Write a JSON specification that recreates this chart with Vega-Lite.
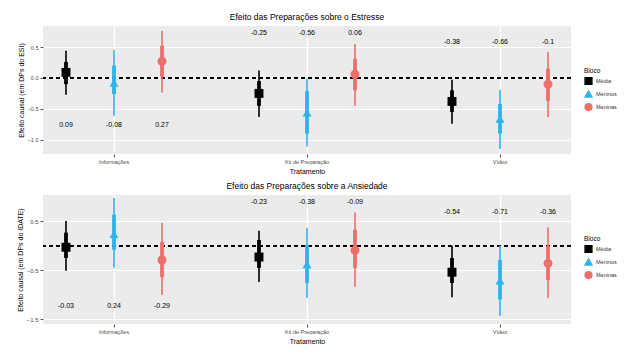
{
  "$schema": "https://vega.github.io/schema/vega-lite/v6.json",
  "padding": {"left": 16, "top": 12, "right": 5, "bottom": 5},
  "datasets": {
    "estresse": [
      {"Tratamento": "Informações", "Bloco": "Média", "est": 0.09, "lo1": -0.10, "hi1": 0.26, "lo2": -0.27, "hi2": 0.44, "label": "0.09", "ly": -0.76},
      {"Tratamento": "Informações", "Bloco": "Meninos", "est": -0.08, "lo1": -0.26, "hi1": 0.20, "lo2": -0.61, "hi2": 0.45, "label": "-0.08", "ly": -0.76},
      {"Tratamento": "Informações", "Bloco": "Meninas", "est": 0.27, "lo1": 0.02, "hi1": 0.52, "lo2": -0.24, "hi2": 0.76, "label": "0.27", "ly": -0.76},
      {"Tratamento": "Kit de Preparação", "Bloco": "Média", "est": -0.25, "lo1": -0.45, "hi1": -0.05, "lo2": -0.63, "hi2": 0.12, "label": "-0.25", "ly": 0.73},
      {"Tratamento": "Kit de Preparação", "Bloco": "Meninos", "est": -0.56, "lo1": -0.90, "hi1": -0.21, "lo2": -1.11, "hi2": -0.01, "label": "-0.56", "ly": 0.73},
      {"Tratamento": "Kit de Preparação", "Bloco": "Meninas", "est": 0.06, "lo1": -0.20, "hi1": 0.31, "lo2": -0.45, "hi2": 0.55, "label": "0.06", "ly": 0.73},
      {"Tratamento": "Vídeo", "Bloco": "Média", "est": -0.38, "lo1": -0.55, "hi1": -0.20, "lo2": -0.74, "hi2": -0.03, "label": "-0.38", "ly": 0.58},
      {"Tratamento": "Vídeo", "Bloco": "Meninos", "est": -0.66, "lo1": -0.90, "hi1": -0.42, "lo2": -1.15, "hi2": -0.19, "label": "-0.66", "ly": 0.58},
      {"Tratamento": "Vídeo", "Bloco": "Meninas", "est": -0.10, "lo1": -0.37, "hi1": 0.15, "lo2": -0.63, "hi2": 0.42, "label": "-0.1", "ly": 0.58}
    ],
    "ansiedade": [
      {"Tratamento": "Informações", "Bloco": "Média", "est": -0.03, "lo1": -0.25, "hi1": 0.27, "lo2": -0.51, "hi2": 0.51, "label": "-0.03", "ly": -1.23},
      {"Tratamento": "Informações", "Bloco": "Meninos", "est": 0.24, "lo1": -0.08, "hi1": 0.64, "lo2": -0.45, "hi2": 0.98, "label": "0.24", "ly": -1.23},
      {"Tratamento": "Informações", "Bloco": "Meninas", "est": -0.29, "lo1": -0.64, "hi1": 0.08, "lo2": -1.00, "hi2": 0.47, "label": "-0.29", "ly": -1.23},
      {"Tratamento": "Kit de Preparação", "Bloco": "Média", "est": -0.23, "lo1": -0.45, "hi1": 0.12, "lo2": -0.74, "hi2": 0.31, "label": "-0.23", "ly": 0.9},
      {"Tratamento": "Kit de Preparação", "Bloco": "Meninos", "est": -0.38, "lo1": -0.76, "hi1": 0.02, "lo2": -1.07, "hi2": 0.37, "label": "-0.38", "ly": 0.9},
      {"Tratamento": "Kit de Preparação", "Bloco": "Meninas", "est": -0.09, "lo1": -0.45, "hi1": 0.33, "lo2": -0.84, "hi2": 0.68, "label": "-0.09", "ly": 0.9},
      {"Tratamento": "Vídeo", "Bloco": "Média", "est": -0.54, "lo1": -0.76, "hi1": -0.25, "lo2": -1.05, "hi2": 0.0, "label": "-0.54", "ly": 0.7},
      {"Tratamento": "Vídeo", "Bloco": "Meninos", "est": -0.71, "lo1": -1.10, "hi1": -0.29, "lo2": -1.44, "hi2": 0.0, "label": "-0.71", "ly": 0.7},
      {"Tratamento": "Vídeo", "Bloco": "Meninas", "est": -0.36, "lo1": -0.70, "hi1": 0.0, "lo2": -1.07, "hi2": 0.38, "label": "-0.36", "ly": 0.7}
    ]
  },
  "vconcat": [
    {
      "width": 528,
      "height": 128,
      "title": {"text": "Efeito das Preparações sobre o Estresse", "fontSize": 8.5, "fontWeight": "normal", "color": "black", "offset": 5},
      "data": {"name": "estresse"},
      "encoding": {
        "x": {"field": "Tratamento", "type": "nominal", "sort": ["Informações", "Kit de Preparação", "Vídeo"],
              "scale": {"range": [-25.5, 553.5], "paddingInner": 0, "paddingOuter": 0},
              "axis": {"title": "Tratamento", "labelAngle": 0, "grid": true, "gridColor": "#FFFFFF", "gridWidth": 1.2, "bandPosition": 0.5, "ticks": true}},
        "xOffset": {"field": "Bloco", "type": "nominal", "sort": ["Média", "Meninos", "Meninas"], "scale": {"paddingOuter": 0.51}},
        "color": {"field": "Bloco", "type": "nominal", "scale": {"domain": ["Média", "Meninos", "Meninas"], "range": ["black", "#2DB4EC", "#EE6E6A"]},
                  "legend": {"orient": "none", "legendX": 541, "legendY": 42, "title": "Bloco", "titleFontSize": 6.5, "titleFontWeight": "normal", "labelFontSize": 5.5, "symbolSize": 45, "rowPadding": 0, "titlePadding": 2, "labelOffset": 3, "labelColor": "#333"}}
      },
      "layer": [
        {
          "mark": {"type": "rule", "color": "black", "strokeDash": [4, 3], "strokeWidth": 1},
          "encoding": {
            "xOffset": null,
            "x": null,
            "color": null,
            "y": {"datum": 0, "type": "quantitative",
                  "scale": {"domain": [-1.23, 0.84], "nice": false, "zero": false},
                  "axis": {"title": "Efeito causal (em DPs do ESI)", "grid": true, "gridColor": "#FFFFFF", "gridWidth": 1, "labelOverlap": false,
                           "values": [-1.0, -0.75, -0.5, -0.25, 0, 0.25, 0.5, 0.75],
                           "labelExpr": "abs(datum.value*2 - round(datum.value*2)) < 0.01 ? format(datum.value, '.1f') : ''",
                           "gridOpacity": {"condition": {"test": "abs(datum.value*2 - round(datum.value*2)) > 0.01", "value": 0.5}, "value": 1},
                           "tickOpacity": {"condition": {"test": "abs(datum.value*2 - round(datum.value*2)) > 0.01", "value": 0}, "value": 1}}}
          }
        },
        {
          "mark": {"type": "rule", "strokeWidth": 1.6},
          "encoding": {
            "y": {"field": "lo2", "type": "quantitative"},
            "y2": {"field": "hi2"}
          }
        },
        {
          "mark": {"type": "rule", "strokeWidth": 3.8},
          "encoding": {
            "y": {"field": "lo1", "type": "quantitative"},
            "y2": {"field": "hi1"}
          }
        },
        {
          "mark": {"type": "point", "filled": true, "opacity": 1, "size": 80},
          "encoding": {
            "y": {"field": "est", "type": "quantitative"},
            "shape": {"field": "Bloco", "type": "nominal", "scale": {"domain": ["Média", "Meninos", "Meninas"], "range": ["square", "triangle-up", "circle"]},
                      "legend": {"orient": "none", "legendX": 541, "legendY": 42, "title": "Bloco", "titleFontSize": 6.5, "titleFontWeight": "normal", "labelFontSize": 5.5, "symbolSize": 45, "rowPadding": 0, "titlePadding": 2, "labelOffset": 3, "labelColor": "#333"}}
          }
        },
        {
          "mark": {"type": "text", "fontSize": 7},
          "encoding": {
            "color": null,
            "y": {"field": "ly", "type": "quantitative"},
            "text": {"field": "label", "type": "nominal"}
          }
        }
      ]
    },
    {
      "width": 528,
      "height": 129,
      "title": {"text": "Efeito das Preparações sobre a Ansiedade", "fontSize": 8.5, "fontWeight": "normal", "color": "black", "offset": 5},
      "data": {"name": "ansiedade"},
      "encoding": {
        "x": {"field": "Tratamento", "type": "nominal", "sort": ["Informações", "Kit de Preparação", "Vídeo"],
              "scale": {"range": [-25.5, 553.5], "paddingInner": 0, "paddingOuter": 0},
              "axis": {"title": "Tratamento", "labelAngle": 0, "grid": true, "gridColor": "#FFFFFF", "gridWidth": 1.2, "bandPosition": 0.5, "ticks": true}},
        "xOffset": {"field": "Bloco", "type": "nominal", "sort": ["Média", "Meninos", "Meninas"], "scale": {"paddingOuter": 0.51}},
        "color": {"field": "Bloco", "type": "nominal", "scale": {"domain": ["Média", "Meninos", "Meninas"], "range": ["black", "#2DB4EC", "#EE6E6A"]},
                  "legend": {"orient": "none", "legendX": 541, "legendY": 41, "title": "Bloco", "titleFontSize": 6.5, "titleFontWeight": "normal", "labelFontSize": 5.5, "symbolSize": 45, "rowPadding": 0, "titlePadding": 2, "labelOffset": 3, "labelColor": "#333"}}
      },
      "layer": [
        {
          "mark": {"type": "rule", "color": "black", "strokeDash": [4, 3], "strokeWidth": 1},
          "encoding": {
            "xOffset": null,
            "x": null,
            "color": null,
            "y": {"datum": 0, "type": "quantitative",
                  "scale": {"domain": [-1.6, 1.04], "nice": false, "zero": false},
                  "axis": {"title": "Efeito causal (em DPs do IDATE)", "grid": true, "gridColor": "#FFFFFF", "gridWidth": 1, "labelOverlap": false, "labelBound": false, "labelFontSize": 6,
                           "values": [-1.5, -1.25, -1, -0.75, -0.5, -0.25, 0, 0.25, 0.5, 0.75, 1],
                           "labelExpr": "abs(datum.value*2 - round(datum.value*2)) < 0.01 ? format(datum.value, '.1f') : ''",
                           "gridOpacity": {"condition": {"test": "abs(datum.value*2 - round(datum.value*2)) > 0.01", "value": 0.5}, "value": 1},
                           "tickOpacity": {"condition": {"test": "abs(datum.value*2 - round(datum.value*2)) > 0.01", "value": 0}, "value": 1}}}
          }
        },
        {
          "mark": {"type": "rule", "strokeWidth": 1.6},
          "encoding": {
            "y": {"field": "lo2", "type": "quantitative"},
            "y2": {"field": "hi2"}
          }
        },
        {
          "mark": {"type": "rule", "strokeWidth": 3.8},
          "encoding": {
            "y": {"field": "lo1", "type": "quantitative"},
            "y2": {"field": "hi1"}
          }
        },
        {
          "mark": {"type": "point", "filled": true, "opacity": 1, "size": 80},
          "encoding": {
            "y": {"field": "est", "type": "quantitative"},
            "shape": {"field": "Bloco", "type": "nominal", "scale": {"domain": ["Média", "Meninos", "Meninas"], "range": ["square", "triangle-up", "circle"]},
                      "legend": {"orient": "none", "legendX": 541, "legendY": 41, "title": "Bloco", "titleFontSize": 6.5, "titleFontWeight": "normal", "labelFontSize": 5.5, "symbolSize": 45, "rowPadding": 0, "titlePadding": 2, "labelOffset": 3, "labelColor": "#333"}}
          }
        },
        {
          "mark": {"type": "text", "fontSize": 7},
          "encoding": {
            "color": null,
            "y": {"field": "ly", "type": "quantitative"},
            "text": {"field": "label", "type": "nominal"}
          }
        }
      ]
    }
  ],
  "spacing": 6,
  "resolve": {
    "scale": {"x": "independent", "y": "independent", "color": "independent", "shape": "independent", "xOffset": "independent"},
    "legend": {"color": "independent", "shape": "independent"}
  },
  "config": {
    "font": "Liberation Sans",
    "view": {"fill": "#EBEBEB", "stroke": null},
    "text": {"color": "black"},
    "axisY": {"labelOverlap": false, "labelBound": false},
    "axis": {"domain": false, "grid": true, "gridColor": "#FFFFFF", "gridOpacity": 1, "labelOverlap": false, "labelFlush": false, "tickColor": "#555", "tickSize": 3, "labelFontSize": 5.5, "labelColor": "#4D4D4D", "titleFontSize": 7, "titleFontWeight": "normal", "titleColor": "black", "labelPadding": 2, "titlePadding": 3}
  }
}
